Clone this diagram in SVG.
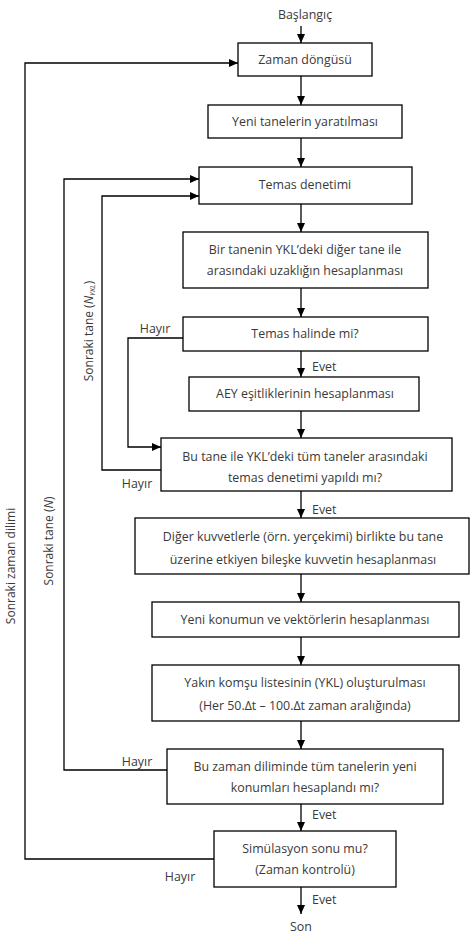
<svg xmlns="http://www.w3.org/2000/svg" width="470" height="938" viewBox="0 0 470 938">
<style>
.b{fill:#fff;stroke:#000;stroke-width:1.3}
.t{font-family:"Open Sans","Liberation Sans",sans-serif;font-size:12.4px;fill:#3a3a3a;text-anchor:middle}
.l{font-family:"Open Sans","Liberation Sans",sans-serif;font-size:12.4px;fill:#3a3a3a}
.r{font-family:"Open Sans","Liberation Sans",sans-serif;font-size:12px;fill:#3a3a3a;text-anchor:middle}
.c{fill:none;stroke:#000;stroke-width:1.3}
</style>
<defs>
<marker id="a" markerWidth="9" markerHeight="8" refX="9" refY="4" orient="auto" markerUnits="userSpaceOnUse">
<path d="M0,0 L9,4 L0,8 Z" fill="#000"/>
</marker>
</defs>
<rect width="470" height="938" fill="#fff"/>
<g id="connectors">
<path class="c" d="M301,26 V43" marker-end="url(#a)"/>
<path class="c" d="M301,76 V105" marker-end="url(#a)"/>
<path class="c" d="M301,138 V167" marker-end="url(#a)"/>
<path class="c" d="M301,204 V232" marker-end="url(#a)"/>
<path class="c" d="M301,288 V317" marker-end="url(#a)"/>
<path class="c" d="M301,351 V377" marker-end="url(#a)"/>
<path class="c" d="M301,411 V438" marker-end="url(#a)"/>
<path class="c" d="M301,491 V518" marker-end="url(#a)"/>
<path class="c" d="M301,574 V602" marker-end="url(#a)"/>
<path class="c" d="M301,637 V665" marker-end="url(#a)"/>
<path class="c" d="M301,721 V749" marker-end="url(#a)"/>
<path class="c" d="M301,804 V831" marker-end="url(#a)"/>
<path class="c" d="M301,887 V914" marker-end="url(#a)"/>
<path class="c" d="M214,859 H25 V63 H238" marker-end="url(#a)"/>
<path class="c" d="M167,770 H64 V179 H199" marker-end="url(#a)"/>
<path class="c" d="M161,470 H102 V196 H199" marker-end="url(#a)"/>
<path class="c" d="M183,338 H128 V447 H161" marker-end="url(#a)"/>
<text class="l" x="312" y="371">Evet</text>
<text class="l" x="312" y="514">Evet</text>
<text class="l" x="312" y="819">Evet</text>
<text class="l" x="312" y="904">Evet</text>
<text class="t" x="155" y="333">Hayır</text>
<text class="t" x="137" y="488">Hayır</text>
<text class="t" x="137" y="766">Hayır</text>
<text class="t" x="180" y="881">Hayır</text>
<text class="r" transform="translate(15,566) rotate(-90)">Sonraki zaman dilimi</text>
<text class="r" transform="translate(53,541) rotate(-90)">Sonraki tane (<tspan font-style="italic">N</tspan>)</text>
<text class="r" transform="translate(93,331) rotate(-90)">Sonraki tane (<tspan font-style="italic">N<tspan font-size="7.5px" dy="2">YKL</tspan></tspan><tspan dy="-2">)</tspan></text>
</g>
<g id="start"><text class="t" x="305" y="19">Başlangıç</text></g>
<g id="n1"><rect class="b" x="238" y="43" width="134" height="33"/><text class="t" x="305" y="64">Zaman döngüsü</text></g>
<g id="n2"><rect class="b" x="208" y="105" width="194" height="33"/><text class="t" x="305" y="126">Yeni tanelerin yaratılması</text></g>
<g id="n3"><rect class="b" x="199" y="167" width="213" height="37"/><text class="t" x="305" y="189">Temas denetimi</text></g>
<g id="n4"><rect class="b" x="183" y="232" width="245" height="56"/><text class="t" x="305" y="254">Bir tanenin YKL’deki diğer tane ile</text><text class="t" x="305" y="275">arasındaki uzaklığın hesaplanması</text></g>
<g id="n5"><rect class="b" x="183" y="317" width="245" height="34"/><text class="t" x="305" y="338">Temas halinde mi?</text></g>
<g id="n6"><rect class="b" x="189" y="377" width="230" height="34"/><text class="t" x="305" y="398">AEY eşitliklerinin hesaplanması</text></g>
<g id="n7"><rect class="b" x="161" y="438" width="291" height="53"/><text class="t" x="305" y="461">Bu tane ile YKL’deki tüm taneler arasındaki</text><text class="t" x="305" y="482">temas denetimi yapıldı mı?</text></g>
<g id="n8"><rect class="b" x="135" y="518" width="334" height="56"/><text class="t" x="303" y="541">Diğer kuvvetlerle (örn. yerçekimi) birlikte bu tane</text><text class="t" x="303" y="564">üzerine etkiyen bileşke kuvvetin hesaplanması</text></g>
<g id="n9"><rect class="b" x="152" y="602" width="307" height="35"/><text class="t" x="305" y="624">Yeni konumun ve vektörlerin hesaplanması</text></g>
<g id="n10"><rect class="b" x="152" y="665" width="307" height="56"/><text class="t" x="305" y="687">Yakın komşu listesinin (YKL) oluşturulması</text><text class="t" x="305" y="710">(Her 50.Δt – 100.Δt zaman aralığında)</text></g>
<g id="n11"><rect class="b" x="167" y="749" width="276" height="55"/><text class="t" x="305" y="771">Bu zaman diliminde tüm tanelerin yeni</text><text class="t" x="305" y="792">konumları hesaplandı mı?</text></g>
<g id="n12"><rect class="b" x="214" y="831" width="182" height="56"/><text class="t" x="305" y="853">Simülasyon sonu mu?</text><text class="t" x="305" y="874">(Zaman kontrolü)</text></g>
<g id="end"><text class="t" x="301" y="931">Son</text></g>
</svg>
